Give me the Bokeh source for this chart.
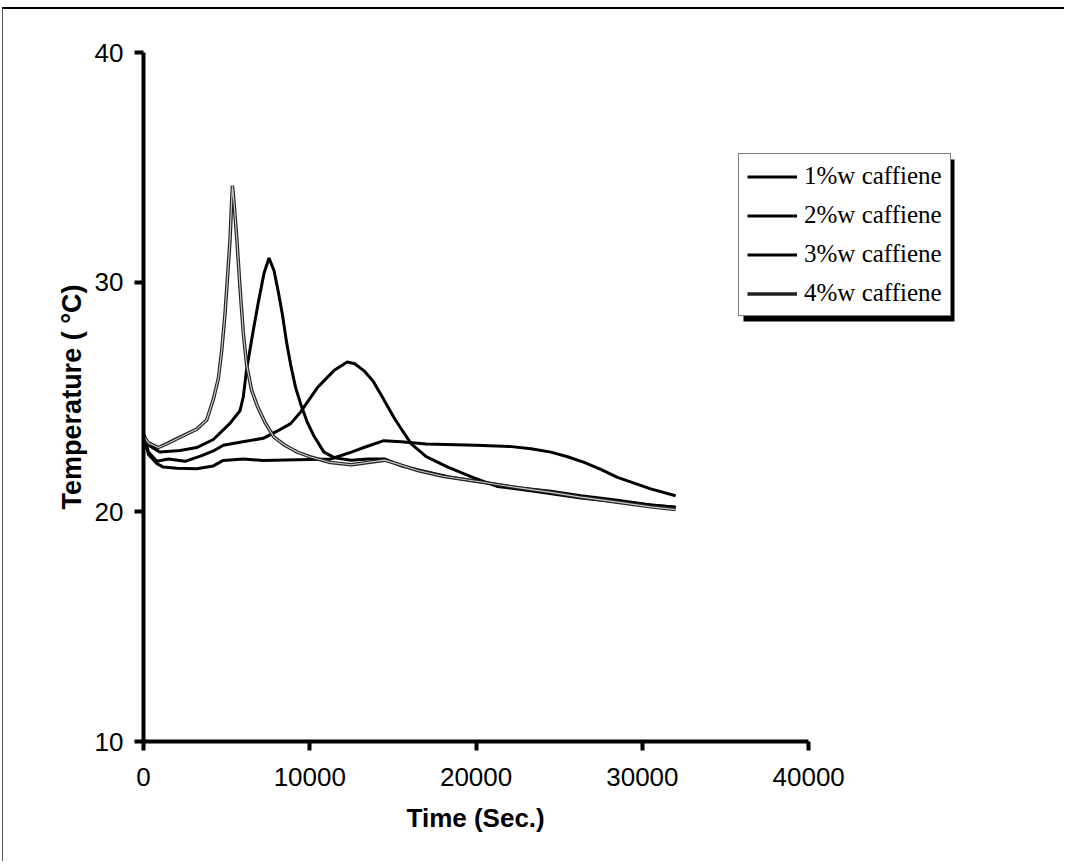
from bokeh.plotting import figure
from bokeh.models import Legend, LegendItem, FixedTicker, Range1d, BoxAnnotation, Title
from bokeh.embed import file_html
from bokeh.resources import INLINE

# ---- data (time in seconds, temperature in °C) ----
t1 = [0, 300, 800, 1200, 2000, 3200, 4200, 4800, 6000, 7200, 9250, 11250, 12500, 13250, 14450,
      15500, 17000, 20000, 22000, 23300, 24500, 25500, 26500, 27500, 28500, 29500, 30500, 32000]
T1 = [23.3, 22.5, 22.1, 21.95, 21.9, 21.88, 22.0, 22.24, 22.3, 22.24, 22.27, 22.3, 22.6, 22.8, 23.1,
      23.05, 22.95, 22.9, 22.85, 22.75, 22.6, 22.4, 22.15, 21.85, 21.5, 21.25, 21.0, 20.7]

t2 = [0, 300, 800, 1500, 2500, 3500, 4200, 4800, 5800, 7200, 8000, 8850, 9450, 10450, 11450,
      12250, 12700, 13250, 13800, 14250, 15050, 15600, 16100, 17000, 18300, 19800, 21300, 23500,
      26300, 29000, 32000]
T2 = [23.3, 22.6, 22.2, 22.3, 22.2, 22.45, 22.65, 22.9, 23.03, 23.2, 23.5, 23.84, 24.35, 25.4, 26.15,
      26.52, 26.45, 26.15, 25.7, 25.14, 24.12, 23.5, 22.96, 22.4, 21.95, 21.5, 21.1, 20.9,
      20.6, 20.4, 20.2]

t3 = [0, 300, 1000, 2200, 3200, 4200, 5200, 5800, 6000, 6200, 6600, 6900, 7250, 7550, 7850, 8100, 8350,
      8600, 8850, 9150, 9450, 9850, 10250, 10850, 11500, 12500, 13500, 14500, 15500, 17000, 18500,
      20300, 22500, 24500, 26300, 28500, 30500, 32000]
T3 = [23.4, 22.9, 22.6, 22.67, 22.8, 23.15, 23.85, 24.4, 25.0, 26.2, 27.9, 29.1, 30.4, 31.05, 30.5, 29.6, 28.6,
      27.4, 26.4, 25.4, 24.7, 23.9, 23.3, 22.6, 22.35, 22.25, 22.3, 22.3, 22.0, 21.75, 21.5,
      21.3, 21.05, 20.9, 20.7, 20.5, 20.3, 20.2]

t4 = [0, 300, 900, 1500, 2200, 3200, 3800, 4200, 4500, 4700, 4900, 5050, 5200, 5300, 5350, 5450,
      5600, 5800, 6000, 6200, 6500, 6850, 7300, 7850, 8500, 9250, 10000, 11250, 12500, 13500, 14500,
      15200, 16500, 18000, 20300, 22500, 24500, 26300, 28500, 30500, 32000]
T4 = [23.3, 23.0, 22.8, 23.0, 23.25, 23.6, 24.0, 24.9, 25.8, 27.0, 28.6, 30.2, 31.8, 33.5, 34.2, 33.4,
      32.0, 29.8, 27.8, 26.4, 25.3, 24.6, 23.9, 23.25, 22.9, 22.6, 22.4, 22.15, 22.05, 22.15, 22.25,
      22.1, 21.8, 21.55, 21.3, 21.05, 20.85, 20.64, 20.42, 20.22, 20.1]

labels = ["1%w caffiene", "2%w caffiene", "3%w caffiene", "4%w caffiene"]
x_ticks = [0, 10000, 20000, 30000, 40000]
y_ticks = [10, 20, 30, 40]

# ---- figure ----
# The frame extends past 40000 so the legend (outside the axes box) is not clipped;
# the x axis itself is bounded to 0..40000.
p = figure(width=1062, height=854, output_backend="svg", toolbar_location=None,
           x_range=Range1d(0, 54000), y_range=Range1d(10, 40),
           min_border_left=140, min_border_right=24, min_border_top=43, min_border_bottom=122)
p.styles = {"margin-top": "7px", "margin-left": "2px",
            "border-top": "2px solid #000", "border-left": "1px solid #555"}
p.background_fill_color = "white"
p.border_fill_color = "white"
p.outline_line_color = None
p.xgrid.visible = False
p.ygrid.visible = False

for ax in (p.xaxis[0], p.yaxis[0]):
    ax.axis_line_width = 4
    ax.axis_line_color = "black"
    ax.major_tick_line_width = 4
    ax.major_tick_line_color = "black"
    ax.major_tick_out = 9
    ax.major_tick_in = 0
    ax.minor_tick_line_color = None
    ax.major_label_text_font = "Liberation Sans"
    ax.major_label_text_font_size = "26px"
    ax.major_label_text_color = "black"
    ax.axis_label_text_font = "Liberation Sans"
    ax.axis_label_text_font_style = "bold"
    ax.axis_label_text_color = "black"

p.xaxis.bounds = (0, 40000)
p.yaxis.axis_label_text_font_size = "27px"
p.xaxis.ticker = FixedTicker(ticks=x_ticks)
p.yaxis.ticker = FixedTicker(ticks=y_ticks)
p.yaxis.axis_label = "Temperature ( °C)"
p.xaxis.major_label_standoff = 17
p.yaxis.major_label_standoff = 11
p.yaxis.axis_label_standoff = 5

# x-axis title, centred under the 0..40000 span
xtitle = Title(text="Time (Sec.)", align="left", offset=263, standoff=25,
               text_font="Liberation Sans", text_font_size="26px",
               text_font_style="bold", text_color="black")
p.add_layout(xtitle, "below")

r1 = p.line(t1, T1, line_color="black", line_width=3)
r2 = p.line(t2, T2, line_color="black", line_width=3)
r3 = p.line(t3, T3, line_color="black", line_width=3)
r4a = p.line(t4, T4, line_color="#222222", line_width=3.5)
r4b = p.line(t4, T4, line_color="#c8c8c8", line_width=1.2)

# legend box and its drop shadow (screen px relative to the frame)
leg_x, leg_y = 595, 425
leg_w, leg_h = 211, 162
shadow = BoxAnnotation(left=leg_x + 5, right=leg_x + leg_w + 5,
                       bottom=leg_y - 5, top=leg_y + leg_h - 5,
                       left_units="screen", right_units="screen",
                       top_units="screen", bottom_units="screen",
                       fill_color="black", fill_alpha=1.0, line_color=None)
p.add_layout(shadow)

legend = Legend(items=[LegendItem(label=labels[0], renderers=[r1]),
                       LegendItem(label=labels[1], renderers=[r2]),
                       LegendItem(label=labels[2], renderers=[r3]),
                       LegendItem(label=labels[3], renderers=[r4a])],
                location=(leg_x, leg_y))
legend.label_text_font = "Liberation Serif"
legend.label_text_font_size = "25px"
legend.label_text_color = "black"
legend.label_height = 25
legend.glyph_height = 25
legend.glyph_width = 50
legend.label_standoff = 7
legend.spacing = 11
legend.padding = 8
legend.margin = 0
legend.border_line_color = "black"
legend.border_line_width = 1.5
legend.background_fill_color = "white"
legend.background_fill_alpha = 1.0
p.add_layout(legend, "center")

open("out.html", "w").write(file_html(p, INLINE))
